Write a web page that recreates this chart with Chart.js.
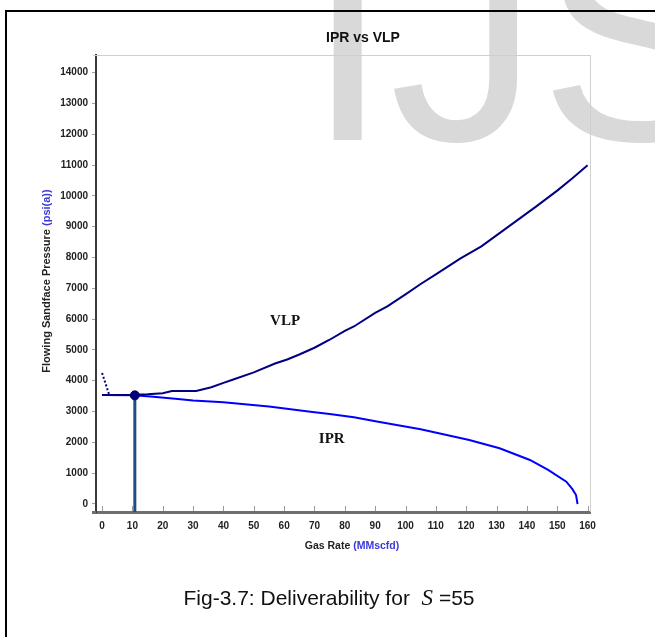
<!DOCTYPE html>
<html lang="en">
<head>
<meta charset="UTF-8">
<title>IPR vs VLP</title>
<script src="https://cdn.jsdelivr.net/npm/chart.js"></script>
<style>
  body { margin: 0; width: 655px; height: 637px; overflow: hidden; background: #fff; position: relative;
         font-family: 'Liberation Sans', Arial, sans-serif; }
  #mark { position: absolute; left: 0; top: 0; z-index: 0; }
  #frame { position: absolute; left: 5px; top: 10px; width: 700px; height: 700px; border: 2px solid #000; z-index: 1; }
  #chartBox { position: absolute; left: 0; top: 0; z-index: 2; }
  #caption { position: absolute; left: 0; width: 658px; top: 587px; text-align: center;
             font-size: 21px; line-height: 21px; color: #111; z-index: 3; }
  #caption i { font-family: 'Liberation Serif', 'Times New Roman', serif; font-size: 23px; }
</style>
</head>
<body>
<svg id="mark" width="655" height="637"><text x="306" y="140" font-family="Liberation Sans, Arial, sans-serif" font-size="300" fill="#d9d9d9">IJS</text></svg>
<div id="frame"></div>
<canvas id="chartBox" width="655" height="637"></canvas>
<div id="caption">Fig-3.7: Deliverability for&nbsp;&nbsp;<i>S</i> =55</div>

<script>
  // gas rate (MMscfd) / flowing sandface pressure (psi(a))
  const vlpRate     = [0, 10, 15, 20, 23, 31, 36, 40, 43, 50, 57, 61, 65, 70, 75, 80, 83, 90, 94, 100, 105, 110, 118, 125, 131, 137, 143, 150, 155, 160];
  const vlpPressure = [3540, 3545, 3560, 3595, 3665, 3670, 3790, 3930, 4030, 4270, 4560, 4690, 4850, 5070, 5330, 5620, 5760, 6200, 6410, 6800, 7140, 7450, 7960, 8360, 8790, 9220, 9650, 10170, 10570, 10990];

  const vlpUnstableRate     = [0, 2.3];
  const vlpUnstablePressure = [4250, 3560];

  const iprRate     = [0, 10.5, 16, 25, 30, 40, 55, 68, 75, 83, 91, 105, 121, 131, 141, 147, 153, 155, 156.2, 156.7];
  const iprPressure = [3540, 3530, 3485, 3410, 3355, 3300, 3160, 3000, 2920, 2815, 2672, 2425, 2078, 1808, 1429, 1104, 724, 480, 290, 0];

  const opRate     = [10.8];
  const opPressure = [3525];

  const xTicks = [0, 10, 20, 30, 40, 50, 60, 70, 80, 90, 100, 110, 120, 130, 140, 150, 160];
  const yTicks = [0, 1000, 2000, 3000, 4000, 5000, 6000, 7000, 8000, 9000, 10000, 11000, 12000, 13000, 14000];

  const xRange = [-2, 160.8];
  const yRange = [-260, 14570];

  const pts = (xs, ys) => xs.map((x, i) => ({ x: x, y: ys[i] }));

  const SANS = "'Liberation Sans', Arial, sans-serif";
  const SERIF = "'Liberation Serif', 'Times New Roman', serif";

  function twoTone(ctx, parts, x, y) {
    const total = parts.reduce((s, p) => s + ctx.measureText(p[0]).width, 0);
    let cx = x - total / 2;
    ctx.textAlign = 'left';
    parts.forEach(p => {
      ctx.fillStyle = p[1];
      ctx.fillText(p[0], cx, y);
      cx += ctx.measureText(p[0]).width;
    });
  }

  const extras = {
    id: 'extras',
    beforeDatasetsDraw(chart) {
      const { ctx, chartArea: a } = chart;
      ctx.save();
      // light frame on top and right
      ctx.strokeStyle = '#cfcfcf';
      ctx.lineWidth = 1;
      ctx.beginPath();
      ctx.moveTo(a.left - 3, a.top + 0.5);
      ctx.lineTo(a.right + 0.5, a.top + 0.5);
      ctx.lineTo(a.right + 0.5, a.bottom);
      ctx.stroke();
      // x tick marks point up into the plot
      const xs = chart.scales.x;
      ctx.strokeStyle = '#9a9a9a';
      xTicks.forEach(v => {
        const px = Math.round(xs.getPixelForValue(v)) + 0.5;
        ctx.beginPath();
        ctx.moveTo(px, a.bottom - 1);
        ctx.lineTo(px, a.bottom - 6);
        ctx.stroke();
      });
      // bottom axis runs a little past the y axis
      ctx.strokeStyle = '#6e6e6e';
      ctx.lineWidth = 3;
      ctx.beginPath();
      ctx.moveTo(a.left - 4, a.bottom + 0.5);
      ctx.lineTo(a.left, a.bottom + 0.5);
      ctx.stroke();
      ctx.restore();
    },
    afterDraw(chart) {
      const { ctx, scales } = chart;
      ctx.save();
      ctx.textBaseline = 'middle';

      ctx.font = 'bold 14px ' + SANS;
      ctx.fillStyle = '#111';
      ctx.textAlign = 'center';
      ctx.fillText('IPR vs VLP', 363, 38);

      ctx.font = 'bold 10.5px ' + SANS;
      twoTone(ctx, [['Gas Rate ', '#222'], ['(MMscfd)', '#3a3ad8']], 352, 546);

      ctx.save();
      ctx.translate(47, 281);
      ctx.rotate(-Math.PI / 2);
      ctx.font = 'bold 11px ' + SANS;
      twoTone(ctx, [['Flowing Sandface Pressure ', '#222'], ['(psi(a))', '#3a3ad8']], 0, 0);
      ctx.restore();

      ctx.font = 'bold 15px ' + SERIF;
      ctx.fillStyle = '#111';
      ctx.textAlign = 'center';
      ctx.fillText('VLP', scales.x.getPixelForValue(60.3), scales.y.getPixelForValue(5950));
      ctx.fillText('IPR', scales.x.getPixelForValue(75.7), scales.y.getPixelForValue(2110));
      ctx.restore();
    }
  };

  const ctx = document.getElementById('chartBox').getContext('2d');
  new Chart(ctx, {
    type: 'scatter',
    data: {
      datasets: [
        {
          label: 'Operating point',
          data: pts(opRate, opPressure),
          pointRadius: 4.5,
          pointBackgroundColor: '#000080',
          pointBorderColor: '#00004d',
          pointBorderWidth: 1,
          showLine: false
        },
        {
          label: 'Operating rate',
          data: [{ x: opRate[0], y: opPressure[0] }, { x: opRate[0], y: yRange[0] }],
          showLine: true,
          borderColor: '#1f4f82',
          borderWidth: 3,
          pointRadius: 0,
          clip: 6
        },
        {
          label: 'VLP',
          data: pts(vlpRate, vlpPressure),
          showLine: true,
          borderColor: '#000080',
          borderWidth: 2,
          pointRadius: 0
        },
        {
          label: 'VLP unstable',
          data: pts(vlpUnstableRate, vlpUnstablePressure),
          showLine: true,
          borderColor: '#000080',
          borderWidth: 2,
          borderDash: [2, 2],
          pointRadius: 0
        },
        {
          label: 'IPR',
          data: pts(iprRate, iprPressure),
          showLine: true,
          borderColor: '#0000ff',
          borderWidth: 2,
          pointRadius: 0
        }
      ]
    },
    options: {
      responsive: false,
      animation: false,
      layout: { padding: { top: 55, right: 65, bottom: 0, left: 0 } },
      plugins: {
        legend: { display: false },
        tooltip: { enabled: false },
        title: { display: false }
      },
      font: { family: SANS },
      scales: {
        x: {
          type: 'linear',
          min: xRange[0],
          max: xRange[1],
          afterBuildTicks: s => { s.ticks = xTicks.map(v => ({ value: v })); },
          afterFit: s => { s.height = 125; },
          grid: { display: true, drawOnChartArea: false, drawTicks: false },
          border: { display: true, color: '#6e6e6e', width: 3 },
          ticks: {
            padding: 8,
            maxRotation: 0,
            autoSkip: false,
            color: '#222',
            font: { family: SANS, size: 10, weight: 'bold' },
            callback: v => String(v)
          }
        },
        y: {
          type: 'linear',
          min: yRange[0],
          max: yRange[1],
          afterBuildTicks: s => { s.ticks = yTicks.map(v => ({ value: v })); },
          afterFit: s => { s.width = 96; },
          grid: { display: true, drawOnChartArea: false, drawTicks: true, tickLength: 4, color: '#a0a0a0' },
          border: { display: true, color: '#3a3a3a', width: 2 },
          ticks: {
            padding: 4,
            autoSkip: false,
            color: '#222',
            font: { family: SANS, size: 10, weight: 'bold' },
            callback: v => String(v)
          }
        }
      }
    },
    plugins: [extras]
  });
</script>
</body>
</html>
